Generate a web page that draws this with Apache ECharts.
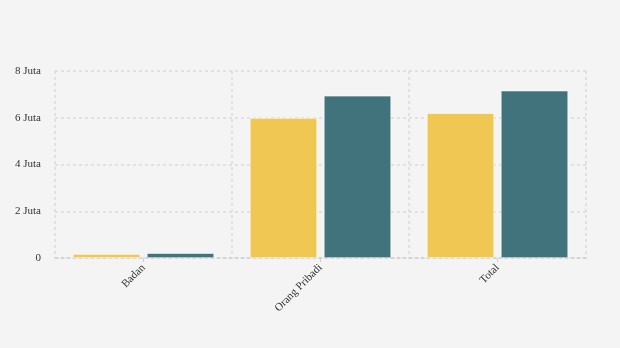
<!DOCTYPE html>
<html><head><meta charset="utf-8">
<script src="https://cdn.jsdelivr.net/npm/echarts@6/dist/echarts.min.js"></script>
<style>html,body{margin:0;padding:0;background:#f4f4f4}#c{width:620px;height:348px}</style>
</head><body><div id="c"></div>
<script>
const categories = ['Badan', 'Orang Pribadi', 'Total'];
const seriesA = [170000, 5990000, 6200000];
const seriesB = [210000, 6940000, 7160000];
const yTicks = {0: '0', 2000000: '2 Juta', 4000000: '4 Juta', 6000000: '6 Juta', 8000000: '8 Juta'};

const chart = echarts.init(document.getElementById('c'));
const font = "'Liberation Serif', 'DejaVu Serif', serif";
const dash = {color: '#dadada', type: [3, 3], width: 1.5};
chart.setOption({
  backgroundColor: '#f4f4f4',
  animation: false,
  grid: {left: 55, right: 34, top: 71, bottom: 90},
  xAxis: {
    type: 'category', data: categories,
    axisLine: {show: true, lineStyle: {color: '#cfcfcf', type: [3, 3], width: 1.5}},
    axisTick: {show: true, alignWithLabel: true, length: 4, lineStyle: {color: '#cfcfcf'}},
    splitLine: {show: true, lineStyle: dash},
    axisLabel: {rotate: 45, color: '#333', fontFamily: font, fontSize: 11, margin: 8}
  },
  yAxis: {
    type: 'value', min: 0, max: 8000000, interval: 2000000,
    axisLine: {show: false}, axisTick: {show: false},
    splitLine: {show: true, lineStyle: dash},
    axisLabel: {color: '#333', fontFamily: font, fontSize: 11, margin: 14, formatter: v => yTicks[v]}
  },
  series: [
    {type: 'bar', data: seriesA, barWidth: '38%', barGap: '10%',
     itemStyle: {color: '#f0c752', borderColor: '#ffffff', borderWidth: 0.6}},
    {type: 'bar', data: seriesB, barWidth: '38%', barGap: '10%',
     itemStyle: {color: '#41737c', borderColor: '#ffffff', borderWidth: 0.6}}
  ]
});
</script></body></html>
